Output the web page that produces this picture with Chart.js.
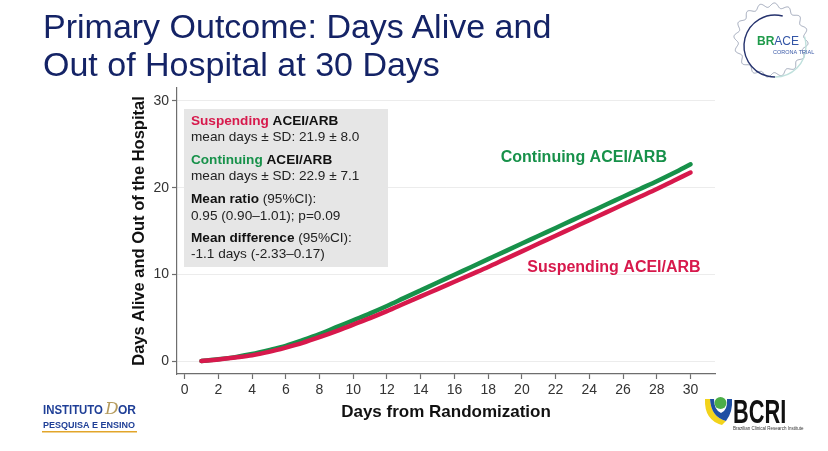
<!DOCTYPE html>
<html>
<head>
<meta charset="utf-8">
<script src="https://cdn.jsdelivr.net/npm/chart.js@4.4.1/dist/chart.umd.min.js"></script>
<style>
  html, body { margin: 0; padding: 0; background: #fff; }
  #wrap { position: relative; width: 828px; height: 451px; overflow: hidden; }
  #title {
    position: absolute; left: 43px; top: 7px; margin: 0;
    font: 34px "Liberation Sans", Arial, sans-serif; line-height: 38px;
    color: #142366; font-weight: normal;
  }
  canvas { position: absolute; left: 0; top: 0; }
</style>
</head>
<body>
<div id="wrap">
  <canvas id="chart" width="828" height="451"></canvas>
  <h1 id="title">Primary Outcome: Days Alive and<br>Out of Hospital at 30 Days</h1>
</div>
<script>
/* data */
const days = [1, 2, 3, 4, 5, 6, 7, 8, 9, 10, 11, 12, 13, 14, 15, 16, 17, 18, 19, 20,
  21, 22, 23, 24, 25, 26, 27, 28, 29, 30];
const continuing = [0, 0.2, 0.45, 0.8, 1.25, 1.75, 2.4, 3.1, 3.9, 4.7, 5.5, 6.35, 7.25, 8.15,
  9.05, 9.95, 10.85, 11.75, 12.65, 13.55, 14.45, 15.35, 16.25, 17.15, 18.05, 18.95,
  19.85, 20.75, 21.7, 22.7];
const suspending = [0, 0.18, 0.4, 0.65, 1.05, 1.55, 2.1, 2.75, 3.45, 4.2, 4.95, 5.75, 6.6,
  7.45, 8.3, 9.15, 10.0, 10.85, 11.75, 12.65, 13.55, 14.45, 15.35, 16.25, 17.15, 18.05,
  18.95, 19.85, 20.8, 21.75];
const xTicks = [0, 2, 4, 6, 8, 10, 12, 14, 16, 18, 20, 22, 24, 26, 28, 30];
const yTicks = [0, 10, 20, 30];

const GREEN = "#17914a";
const RED = "#d7194c";
const FONT = '"Liberation Sans", Arial, sans-serif';

const boxLines = [
  [["Suspending ", RED, true], ["ACEI/ARB", "#111", true]],
  [["mean days \u00b1 SD: 21.9 \u00b1 8.0", "#222", false]],
  [["Continuing ", GREEN, true], ["ACEI/ARB", "#111", true]],
  [["mean days \u00b1 SD: 22.9 \u00b1 7.1", "#222", false]],
  [["Mean ratio", "#111", true], [" (95%CI):", "#222", false]],
  [["0.95 (0.90\u20131.01); p=0.09", "#222", false]],
  [["Mean difference", "#111", true], [" (95%CI):", "#222", false]],
  [["-1.1 days (-2.33\u20130.17)", "#222", false]],
];
const boxLineY = [121, 137, 160, 176, 199, 216, 238, 254];

const toPoints = (vals) => vals.map((v, i) => ({ x: days[i], y: v }));

function drawLogos(ctx) {
  // BRACE logo, top right
  ctx.save();
  ctx.strokeStyle = "#9ea6b8";
  ctx.lineWidth = 1;
  ctx.beginPath();
  for (let i = 0; i <= 360; i++) {
    const t = (i / 360) * Math.PI * 2;
    const r = 35 + 2.2 * Math.sin(t * 16);
    const px = 771 + r * Math.cos(t), py = 40 + r * Math.sin(t);
    if (i === 0) ctx.moveTo(px, py); else ctx.lineTo(px, py);
  }
  ctx.stroke();
  ctx.strokeStyle = "#26336e";
  ctx.lineWidth = 1.4;
  ctx.beginPath();
  ctx.arc(775, 46, 31, -Math.PI * 0.42, Math.PI * 0.5, true);
  ctx.stroke();
  ctx.strokeStyle = "#bfe0dc";
  ctx.beginPath();
  ctx.arc(775, 46, 31, Math.PI * 0.5, -Math.PI * 0.1, true);
  ctx.stroke();
  ctx.textBaseline = "middle";
  ctx.font = "bold 12px " + FONT;
  ctx.fillStyle = "#1f9a4a";
  ctx.fillText("BR", 757, 42);
  const brw = ctx.measureText("BR").width;
  ctx.font = "12px " + FONT;
  ctx.fillStyle = "#3355a6";
  ctx.fillText("ACE", 757 + brw, 42);
  ctx.font = "5.5px " + FONT;
  ctx.fillStyle = "#3b5aa8";
  ctx.fillText("CORONA TRIAL", 773, 52);
  ctx.restore();

  // Instituto D'Or, bottom left
  ctx.save();
  ctx.textBaseline = "alphabetic";
  ctx.font = "bold 12px " + FONT;
  ctx.fillStyle = "#1f3f97";
  ctx.save();
  ctx.translate(43, 414);
  ctx.scale(0.95, 1);
  ctx.fillText("INSTITUTO", 0, 0);
  ctx.restore();
  ctx.font = "italic 17px 'DejaVu Serif', serif";
  ctx.fillStyle = "#b59b5e";
  ctx.fillText("D", 105, 414);
  ctx.font = "bold 12px " + FONT;
  ctx.fillStyle = "#1f3f97";
  ctx.fillText("OR", 118, 414);
  ctx.font = "bold 9px " + FONT;
  ctx.fillText("PESQUISA E ENSINO", 43, 428);
  ctx.fillStyle = "#e2a52a";
  ctx.fillRect(42, 431, 95, 1.5);
  ctx.restore();

  // BCRI, bottom right
  ctx.save();
  ctx.fillStyle = "#f2d31b";
  ctx.beginPath();
  ctx.moveTo(705, 399);
  ctx.quadraticCurveTo(704, 420, 722, 425);
  ctx.lineTo(726, 421);
  ctx.quadraticCurveTo(711, 417, 710, 399);
  ctx.closePath();
  ctx.fill();
  ctx.fillStyle = "#1e4fa3";
  ctx.beginPath();
  ctx.moveTo(710, 399);
  ctx.quadraticCurveTo(711, 417, 726, 421);
  ctx.quadraticCurveTo(733, 412, 732, 399);
  ctx.lineTo(727, 399);
  ctx.quadraticCurveTo(728, 410, 721, 413);
  ctx.quadraticCurveTo(714, 410, 714, 399);
  ctx.closePath();
  ctx.fill();
  ctx.fillStyle = "#4cae48";
  ctx.beginPath();
  ctx.arc(720.5, 403, 6, 0, Math.PI * 2);
  ctx.fill();
  ctx.fillStyle = "#111";
  ctx.textBaseline = "alphabetic";
  ctx.font = "bold 33px " + FONT;
  ctx.save();
  ctx.translate(733, 423);
  ctx.scale(0.66, 1);
  ctx.fillText("BCRI", 0, 0);
  ctx.restore();
  ctx.font = "4.5px " + FONT;
  ctx.fillStyle = "#333";
  ctx.fillText("Brazilian Clinical Research Institute", 733, 430);
  ctx.restore();
}

const overlay = {
  id: "overlay",
  afterDatasetsDraw(chart) {
    const { ctx, chartArea, scales } = chart;
    const { x, y } = scales;
    ctx.save();
    // statistics box
    ctx.fillStyle = "#e6e6e6";
    ctx.fillRect(chartArea.left + 7, chartArea.top + 21, 204, 158);
    ctx.textBaseline = "middle";
    ctx.textAlign = "left";
    boxLines.forEach((parts, i) => {
      let cx = 191;
      parts.forEach(([txt, col, bold]) => {
        ctx.font = (bold ? "bold " : "") + "13.6px " + FONT;
        ctx.fillStyle = col;
        ctx.fillText(txt, cx, boxLineY[i]);
        cx += ctx.measureText(txt).width;
      });
    });
    // line labels
    ctx.font = "bold 16px " + FONT;
    ctx.textAlign = "right";
    ctx.fillStyle = GREEN;
    ctx.fillText("Continuing ACEI/ARB", x.getPixelForValue(28.6), y.getPixelForValue(23.5));
    ctx.fillStyle = RED;
    ctx.fillText("Suspending ACEI/ARB", x.getPixelForValue(30.6), y.getPixelForValue(10.8));
    ctx.restore();
  },
  afterDraw(chart) {
    drawLogos(chart.ctx);
  },
};

new Chart(document.getElementById("chart"), {
  type: "line",
  data: {
    datasets: [
      {
        label: "Suspending ACEI/ARB",
        data: toPoints(suspending),
        borderColor: RED,
        borderWidth: 4.5,
        pointRadius: 0,
        cubicInterpolationMode: "monotone",
        borderCapStyle: "round",
      },
      {
        label: "Continuing ACEI/ARB",
        data: toPoints(continuing),
        borderColor: GREEN,
        borderWidth: 4.5,
        pointRadius: 0,
        cubicInterpolationMode: "monotone",
        borderCapStyle: "round",
      },
    ],
  },
  options: {
    responsive: false,
    animation: false,
    layout: { padding: { left: 120, top: 88, right: 113, bottom: 0 } },
    plugins: {
      legend: { display: false },
      tooltip: { enabled: false },
    },
    scales: {
      x: {
        type: "linear",
        min: -0.45,
        max: 31.45,
        afterBuildTicks: (s) => { s.ticks = xTicks.map((v) => ({ value: v })); },
        afterFit: (s) => { s.height = 77; },
        grid: { drawOnChartArea: false, tickLength: 5, tickColor: "#6e6e6e", tickWidth: 1.2 },
        border: { color: "#6e6e6e", width: 1.2 },
        ticks: { padding: 3, color: "#333", font: { family: FONT, size: 14 }, maxRotation: 0 },
        title: {
          display: true,
          text: "Days from Randomization",
          color: "#111",
          font: { family: FONT, size: 17, weight: "bold" },
          padding: { top: 0, bottom: 28 },
        },
      },
      y: {
        min: -1.5,
        max: 31.5,
        afterBuildTicks: (s) => { s.ticks = yTicks.map((v) => ({ value: v })); },
        afterFit: (s) => { s.width = 57; },
        grid: { color: "#ececec", lineWidth: 1, tickLength: 5, tickColor: "#6e6e6e", tickWidth: 1.2 },
        border: { color: "#6e6e6e", width: 1.2 },
        ticks: { padding: 3, color: "#333", font: { family: FONT, size: 14 } },
        title: {
          display: true,
          text: "Days Alive and Out of the Hospital",
          color: "#111",
          font: { family: FONT, size: 16.5, weight: "bold" },
          padding: { top: 10, bottom: 0 },
        },
      },
    },
  },
  plugins: [overlay],
});
</script>
</body>
</html>
